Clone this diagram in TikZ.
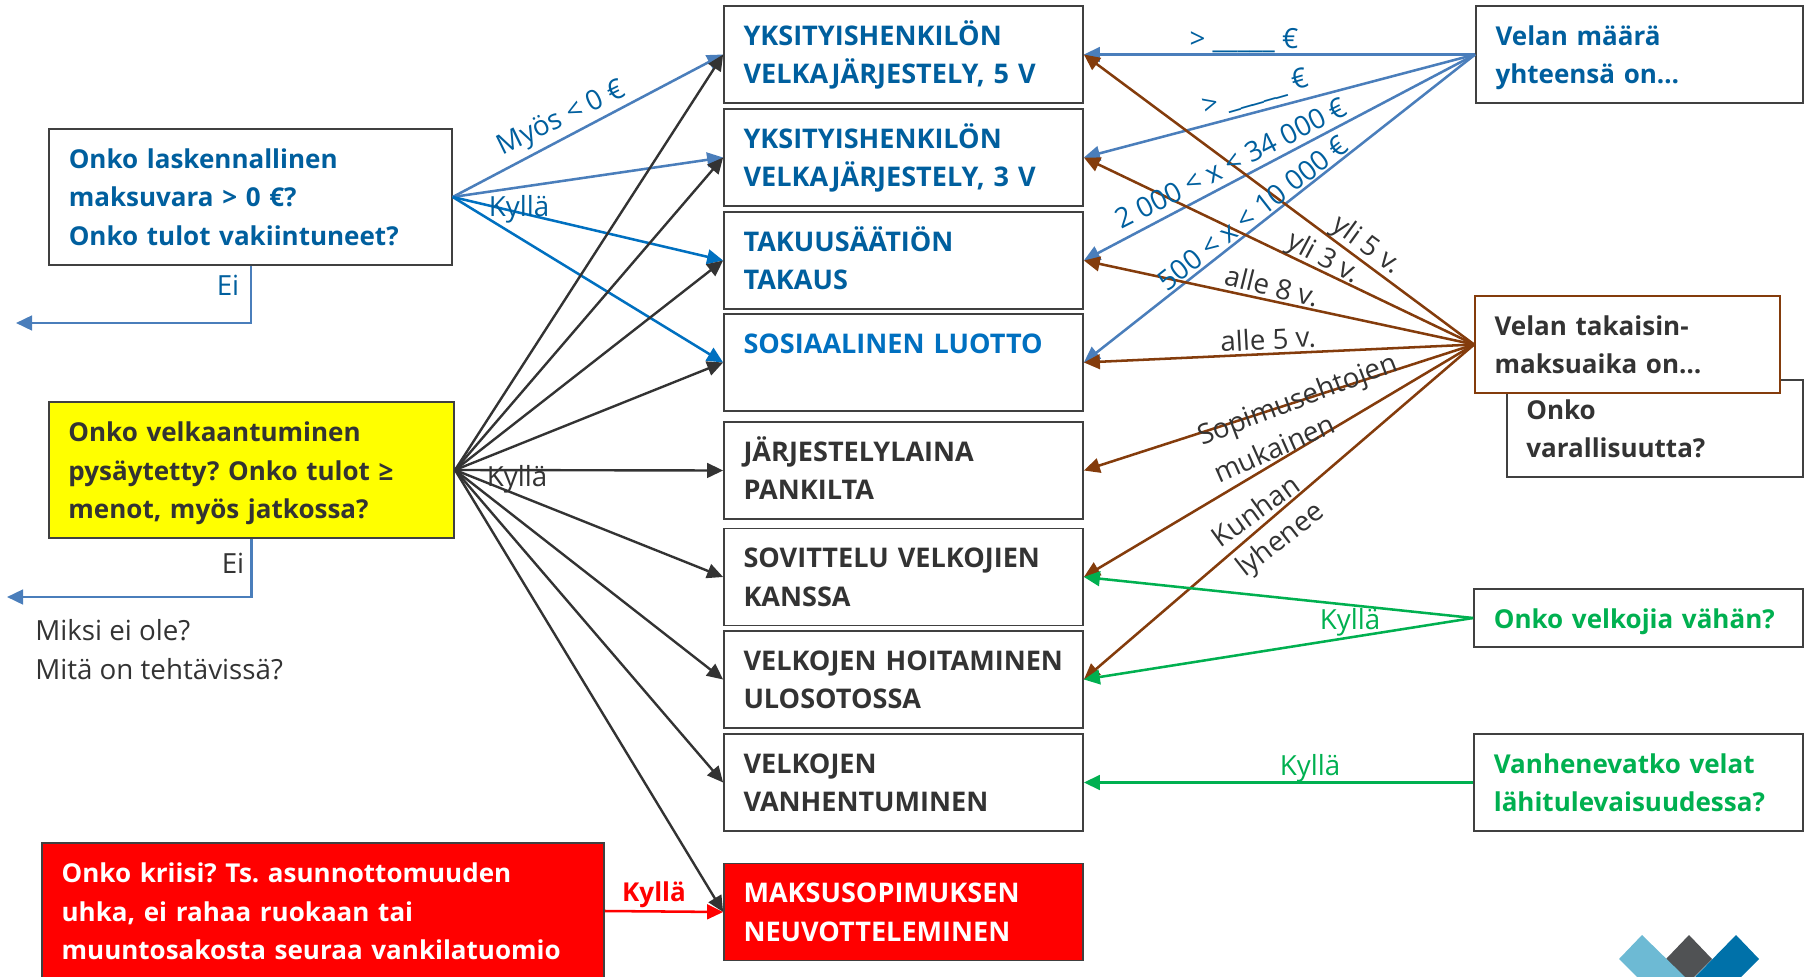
\documentclass[tikz,border=0pt]{standalone}
\usepackage{fontspec}
\setmainfont{Open Sans}
\usetikzlibrary{arrows.meta}
\definecolor{txtblue}{HTML}{005F9E}
\definecolor{brightblue}{HTML}{0070C0}
\definecolor{linkblue}{HTML}{4A7EBB}
\definecolor{ink}{HTML}{333333}
\definecolor{edge}{HTML}{404040}
\definecolor{brownline}{HTML}{843C0C}
\definecolor{greenline}{HTML}{00B050}
\definecolor{logolight}{HTML}{6DBAD4}
\definecolor{logodark}{HTML}{505254}
\definecolor{logoblue}{HTML}{0071A9}
\definecolor{pureyellow}{RGB}{255,255,0}
\definecolor{purered}{RGB}{255,0,0}
\newcommand{\boxfont}{\fontsize{19.5pt}{29.1pt}\selectfont\bfseries\frenchspacing}
\newcommand{\optfont}{\fontsize{20.3pt}{29.1pt}\selectfont\bfseries\frenchspacing}
\newcommand{\lblfont}{\fontsize{20.8pt}{29.1pt}\selectfont\frenchspacing}
\newcommand{\topstrut}{\rule{0pt}{21pt}}
\newcommand{\botstrut}{\rule[-6pt]{0pt}{6pt}}
\tikzset{
  x=0.75pt,y=-0.75pt,
  plainbox/.style={draw=edge,line width=1.3pt,fill=white,rectangle,align=left,inner sep=0pt,
    text width=#1,font=\boxfont,execute at begin node=\topstrut,execute at end node=\botstrut},
  plainbox/.default={10cm},
  opt/.style={plainbox=240pt,minimum width=269.25pt,minimum height=72.75pt,text=ink,font=\optfont},
  lbl/.style={font=\lblfont,inner sep=0pt,text=ink},
  arrowbase/.style={-{Triangle[length=12pt,width=11pt]},line width=1.9pt},
  linkb/.style={arrowbase,draw=linkblue},
  linkc/.style={arrowbase,draw=brightblue},
  linkd/.style={arrowbase,draw=ink,line width=1.8pt},
  linkr/.style={arrowbase,draw=brownline},
  linkg/.style={arrowbase,draw=greenline},
}
\begin{document}
\begin{tikzpicture}
\useasboundingbox (0,0) rectangle (1810,977);
% middle column
\node[opt,text=txtblue] (m1) at (903.5,54.5) {YKSITYISHENKILÖN\\VELKAJÄRJESTELY, 5 V};
\node[opt,text=txtblue] (m2) at (903.5,157.5) {YKSITYISHENKILÖN\\VELKAJÄRJESTELY, 3 V};
\node[opt,text=txtblue] (m3) at (903.5,260.5) {TAKUUSÄÄTIÖN\\TAKAUS};
\node[opt,text=brightblue] (m4) at (903.5,362.5) {SOSIAALINEN LUOTTO\\\mbox{}};
\node[opt] (m5) at (903.5,470.5) {JÄRJESTELYLAINA\\PANKILTA};
\node[opt] (m6) at (903.5,577) {SOVITTELU VELKOJIEN\\KANSSA};
\node[opt] (m7) at (903.5,679.5) {VELKOJEN HOITAMINEN\\ULOSOTOSSA};
\node[opt] (m8) at (903.5,782.5) {VELKOJEN\\VANHENTUMINEN};
\node[opt,fill=purered,text=white] (m9) at (903.5,912) {MAKSUSOPIMUKSEN\\NEUVOTTELEMINEN};
% left column
\node[plainbox=272.6pt,minimum width=302pt,minimum height=102pt,text=txtblue] (q1) at (250.5,197) {Onko laskennallinen\\maksuvara > 0 €?\\Onko tulot vakiintuneet?};
\node[plainbox=274.6pt,minimum width=304pt,minimum height=102pt,fill=pureyellow,text=ink] (q2) at (251.5,470) {Onko velkaantuminen\\pysäytetty? Onko tulot ≥\\menot, myös jatkossa?};
\node[plainbox=392pt,minimum width=421.5pt,minimum height=102pt,fill=purered,text=white] (q3) at (323,911) {Onko kriisi? Ts. asunnottomuuden\\uhka, ei rahaa ruokaan tai\\muuntosakosta seuraa vankilatuomio};
% right column
\node[plainbox=216pt,minimum width=245.25pt,minimum height=72.75pt,text=txtblue] (r1) at (1639.5,54.5) {Velan määrä\\yhteensä on…};
\node[plainbox=193pt,minimum width=222pt,minimum height=72.75pt,text=ink] (r3) at (1655,428.5) {Onko\\varallisuutta?};
\node[plainbox=199.5pt,minimum width=228.75pt,minimum height=72.75pt,draw=brownline,text=ink] (r2) at (1627.5,344.5) {Velan takaisin-\\maksuaika on…};
\node[plainbox=217pt,minimum width=246.75pt,minimum height=43.5pt,text=greenline] (r4) at (1638.5,618) {Onko velkojia vähän?};
\node[plainbox=217pt,minimum width=246.75pt,minimum height=72.75pt,text=greenline] (r5) at (1638.5,782.5) {Vanhenevatko velat\\lähitulevaisuudessa?};
% free ends
\coordinate (e1) at (16,323);
\coordinate (e2) at (7,597);
% Ei connectors
\draw[linkb] (q1.south -| 251,0) |- (e1);
\draw[linkb] (q2.south -| 251.5,0) |- (e2);
% from q1
\draw[linkb] (q1.east) -- (m1.west);
\draw[linkb] (q1.east) -- (m2.west);
\draw[linkc] (q1.east) -- (m3.west);
\draw[linkc] (q1.east) -- (m4.west);
% from q2
\foreach \t in {m1,m2,m3,m4,m5,m6,m7,m8,m9} {\draw[linkd] (q2.east) -- (\t.west);}
% red
\draw[arrowbase,draw=purered] (q3.east) -- (m9.west);
% from r1
\foreach \t in {m1,m2,m3,m4} {\draw[linkb] (r1.west) -- (\t.east);}
% from r2
\foreach \t in {m1,m2,m3,m4,m5,m6,m7} {\draw[linkr] (r2.west) -- (\t.east);}
% green
\draw[linkg] (r4.west) -- (m6.east);
\draw[linkg] (r4.west) -- (m7.east);
\draw[linkg] (r5.west) -- (m8.east);
% labels
\node[lbl,text=txtblue,rotate=26] (l1) at (562,119.5) {Myös < 0 €};
\node[lbl,text=txtblue] (l2) at (519,209.5) {Kyllä};
\node[lbl] (l3) at (517,479.5) {Kyllä};
\node[lbl,text=txtblue] (l4) at (228,285) {Ei};
\node[lbl] (l5) at (233,563) {Ei};
\node[lbl,align=left,anchor=west] (l6) at (35,649.5) {Miksi ei ole?\\Mitä on tehtävissä?};
\node[lbl,text=purered,font=\boxfont] (l7) at (654,894.5) {Kyllä};
\node[lbl,text=txtblue] (l8) at (1244,41) {> \_\_\_\_\_ €};
\node[lbl,text=txtblue,rotate=16] (l9) at (1256,93) {> \_\_\_\_\_ €};
\node[lbl,text=txtblue,rotate=27] (l10) at (1231,163) {2 000 < x < 34 000 €};
\node[lbl,text=txtblue,rotate=38] (l11) at (1253,213) {500 < x < 10 000 €};
\node[lbl,rotate=-36] (l12) at (1366,246) {yli 5 v.};
\node[lbl,rotate=-28] (l13) at (1323,259) {yli 3 v.};
\node[lbl,rotate=-14] (l14) at (1272,286) {alle 8 v.};
\node[lbl,rotate=3] (l15) at (1268,339) {alle 5 v.};
\node[lbl,rotate=21] (l16) at (1298,401) {Sopimusehtojen};
\node[lbl,rotate=24] (l17) at (1274,448) {mukainen};
\node[lbl,rotate=36] (l18) at (1255,511) {Kunhan};
\node[lbl,rotate=38] (l19) at (1281,541) {lyhenee};
\node[lbl,text=greenline] (l20) at (1350,622.5) {Kyllä};
\node[lbl,text=greenline] (l21) at (1310,768.5) {Kyllä};
% logo
\fill[logodark] (1689,935) -- (1712,959) -- (1694,977) -- (1684,977) -- (1666,959) -- cycle;
\fill[logolight] (1642,935) -- (1685,977) -- (1637,977) -- (1619,959) -- cycle;
\fill[logoblue] (1736,935) -- (1759,959) -- (1741,977) -- (1695,977) -- cycle;
\end{tikzpicture}
\end{document}
